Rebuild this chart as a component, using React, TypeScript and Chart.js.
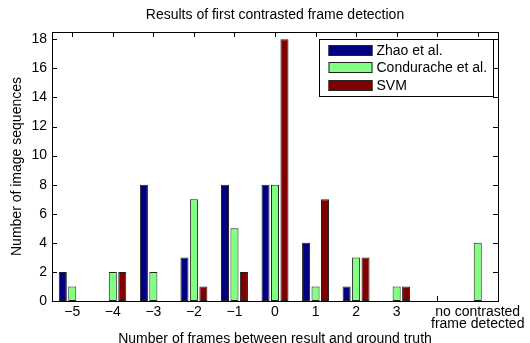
import React, { useEffect, useRef } from 'react';
import { Chart, registerables } from 'chart.js';

Chart.register(...registerables);

const categories: (string | string[])[] = ['−5', '−4', '−3', '−2', '−1', '0', '1', '2', '3', '', ['no contrasted', 'frame detected']];
const zhao = [2, 0, 8, 3, 8, 8, 4, 1, 0, 0, 0];
const condurache = [1, 2, 2, 7, 5, 8, 1, 3, 1, 0, 4];
const svm = [0, 2, 0, 1, 2, 18, 7, 3, 1, 0, 0];
const seriesNames = ['Zhao et al.', 'Condurache et al.', 'SVM'];
const seriesColors = ['#000080', '#80FF80', '#800000'];
const yTicks = [0, 2, 4, 6, 8, 10, 12, 14, 16, 18];
const yMax = 18.5;
const titleText = 'Results of first contrasted frame detection';
const xTitle = 'Number of frames between result and ground truth';
const yTitle = 'Number of image sequences';

const FONT = "'Liberation Sans', Arial, Helvetica, sans-serif";

const axesPlugin = {
  id: 'matlabAxes',
  beforeDatasetsDraw(chart: any) {
    const { ctx, chartArea } = chart;
    const { left, right, top, bottom } = chartArea;
    const xs = chart.scales.x;
    const ys = chart.scales.y;
    const L = 5;
    ctx.save();
    ctx.strokeStyle = '#000';
    ctx.lineWidth = 1;
    ctx.beginPath();
    for (let i = 0; i < categories.length; i++) {
      const px = Math.round(xs.getPixelForValue(i)) + 0.5;
      ctx.moveTo(px, top);
      ctx.lineTo(px, top + L);
      ctx.moveTo(px, bottom);
      ctx.lineTo(px, bottom - L);
    }
    for (const v of yTicks) {
      const py = Math.round(ys.getPixelForValue(v)) + 0.5;
      ctx.moveTo(left, py);
      ctx.lineTo(left + L, py);
      ctx.moveTo(right, py);
      ctx.lineTo(right - L, py);
    }
    ctx.stroke();
    ctx.restore();
  },
  afterDatasetsDraw(chart: any) {
    const { ctx, chartArea } = chart;
    const { left, right, top, bottom } = chartArea;
    ctx.save();
    ctx.strokeStyle = '#000';
    ctx.lineWidth = 1;
    ctx.strokeRect(Math.round(left) + 0.5, Math.round(top) + 0.5, Math.round(right - left), Math.round(bottom - top));

    // legend
    const bw = 174;
    const bh = 57;
    const bx = Math.round(right) - 179 + 0.5;
    const by = Math.round(top) + 7 + 0.5;
    ctx.fillStyle = '#fff';
    ctx.fillRect(bx, by, bw, bh);
    ctx.strokeRect(bx, by, bw, bh);
    ctx.font = `14px ${FONT}`;
    ctx.textBaseline = 'middle';
    ctx.textAlign = 'left';
    chart.data.datasets.forEach((ds: any, i: number) => {
      const sy = Math.round(by + 5 + i * 17.5);
      ctx.fillStyle = ds.backgroundColor;
      ctx.fillRect(bx + 9, sy, 44, 11);
      ctx.strokeStyle = '#222';
      ctx.strokeRect(bx + 9 + 0.5, sy + 0.5, 43, 10);
      ctx.fillStyle = '#000';
      ctx.fillText(ds.label, bx + 57, sy + 6);
    });
    ctx.restore();
  },
};

export default function App() {
  const ref = useRef<HTMLCanvasElement | null>(null);

  useEffect(() => {
    if (!ref.current) return;
    Chart.defaults.color = '#000';
    const mk = (i: number, data: number[]) => ({
      label: seriesNames[i],
      data,
      backgroundColor: seriesColors[i],
      borderColor: '#222',
      borderWidth: (c: any) => (c.raw === 0 ? 0 : 1),
      borderSkipped: false as any,
      categoryPercentage: 0.7,
      barPercentage: 0.85,
    });
    const chart = new Chart(ref.current, {
      type: 'bar',
      data: {
        labels: categories as any,
        datasets: [mk(0, zhao), mk(1, condurache), mk(2, svm)],
      },
      options: {
        animation: false,
        responsive: true,
        maintainAspectRatio: false,
        layout: { padding: { left: 0, right: 32, top: 0, bottom: 0 } },
        plugins: {
          legend: { display: false },
          tooltip: { enabled: false },
          title: {
            display: true,
            text: titleText,
            fullSize: false,
            color: '#000',
            font: { family: FONT, size: 14, weight: 'normal', lineHeight: 1.2 },
            padding: { top: 7, bottom: 8.2 },
          },
        },
        scales: {
          x: {
            type: 'category',
            offset: true,
            grid: { display: false, drawTicks: false },
            border: { display: false },
            ticks: {
              autoSkip: false,
              maxRotation: 0,
              minRotation: 0,
              padding: 6,
              color: '#000',
              font: { family: FONT, size: 14, lineHeight: 0.8 },
            },
            title: {
              display: true,
              text: xTitle,
              color: '#000',
              font: { family: FONT, size: 14, lineHeight: 1.2 },
              padding: { top: 0, bottom: -5 },
            },
            afterFit(scale: any) {
              scale.height = 42;
              scale.paddingLeft = 0;
              scale.paddingRight = 0;
            },
          },
          y: {
            type: 'linear',
            min: 0,
            max: yMax,
            grid: { display: false, drawTicks: false },
            border: { display: false },
            afterBuildTicks(scale: any) {
              scale.ticks = yTicks.map((v) => ({ value: v }));
            },
            ticks: {
              padding: 5,
              color: '#000',
              font: { family: FONT, size: 14 },
            },
            title: {
              display: true,
              text: yTitle,
              color: '#000',
              font: { family: FONT, size: 14, lineHeight: 1.2 },
              padding: { top: 8.5, bottom: 0 },
            },
            afterFit(scale: any) {
              scale.width = 52;
              scale.paddingTop = 0;
              scale.paddingBottom = 0;
            },
          },
        },
      },
      plugins: [axesPlugin],
    });
    return () => chart.destroy();
  }, []);

  return (
    <div style={{ position: 'absolute', left: 0, top: 0, width: 530, height: 343, background: '#fff' }}>
      <canvas ref={ref} />
    </div>
  );
}
